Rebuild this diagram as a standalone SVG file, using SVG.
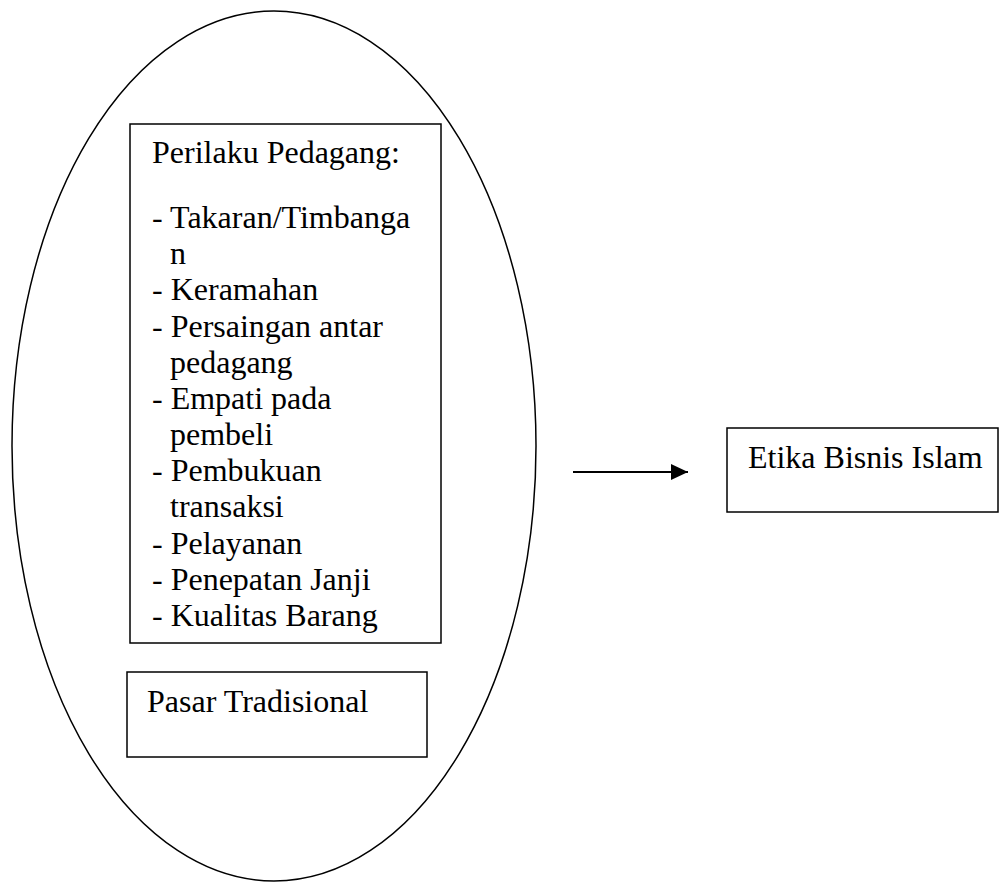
<svg xmlns="http://www.w3.org/2000/svg" width="1000" height="882" viewBox="0 0 1000 882">
<style>
.s{fill:none;stroke:#000;stroke-width:1.5}
.t{font-family:"Liberation Serif","Times New Roman",serif;font-size:32px;fill:#000}
</style>
<defs>
<marker id="ah" markerWidth="17" markerHeight="16" refX="17" refY="8" orient="auto" markerUnits="userSpaceOnUse" viewBox="0 0 17 16">
<path d="M0,0 L17,8 L0,16 Z" fill="#000"/>
</marker>
</defs>
<rect width="1000" height="882" fill="#fff"/>
<g id="oval"><ellipse class="s" cx="274" cy="446" rx="262" ry="435"/></g>
<g id="perilaku">
<rect class="s" x="130" y="124" width="311" height="519"/>
<text class="t" x="152" y="163">Perilaku Pedagang:</text>
<text class="t" x="152" y="228">- Takaran/Timbanga</text>
<text class="t" x="170" y="264">n</text>
<text class="t" x="152" y="300">- Keramahan</text>
<text class="t" x="152" y="337">- Persaingan antar</text>
<text class="t" x="170" y="373">pedagang</text>
<text class="t" x="152" y="409">- Empati pada</text>
<text class="t" x="170" y="445">pembeli</text>
<text class="t" x="152" y="481">- Pembukuan</text>
<text class="t" x="170" y="517">transaksi</text>
<text class="t" x="152" y="554">- Pelayanan</text>
<text class="t" x="152" y="590">- Penepatan Janji</text>
<text class="t" x="152" y="626">- Kualitas Barang</text>
</g>
<g id="pasar">
<rect class="s" x="127" y="672" width="300" height="85"/>
<text class="t" x="147" y="712">Pasar Tradisional</text>
</g>
<g id="etika">
<rect class="s" x="727" y="428" width="271" height="84"/>
<text class="t" x="748" y="468">Etika Bisnis Islam</text>
</g>
<g id="connectors">
<line x1="573" y1="472" x2="688" y2="472" stroke="#000" stroke-width="2" marker-end="url(#ah)"/>
</g>
</svg>
